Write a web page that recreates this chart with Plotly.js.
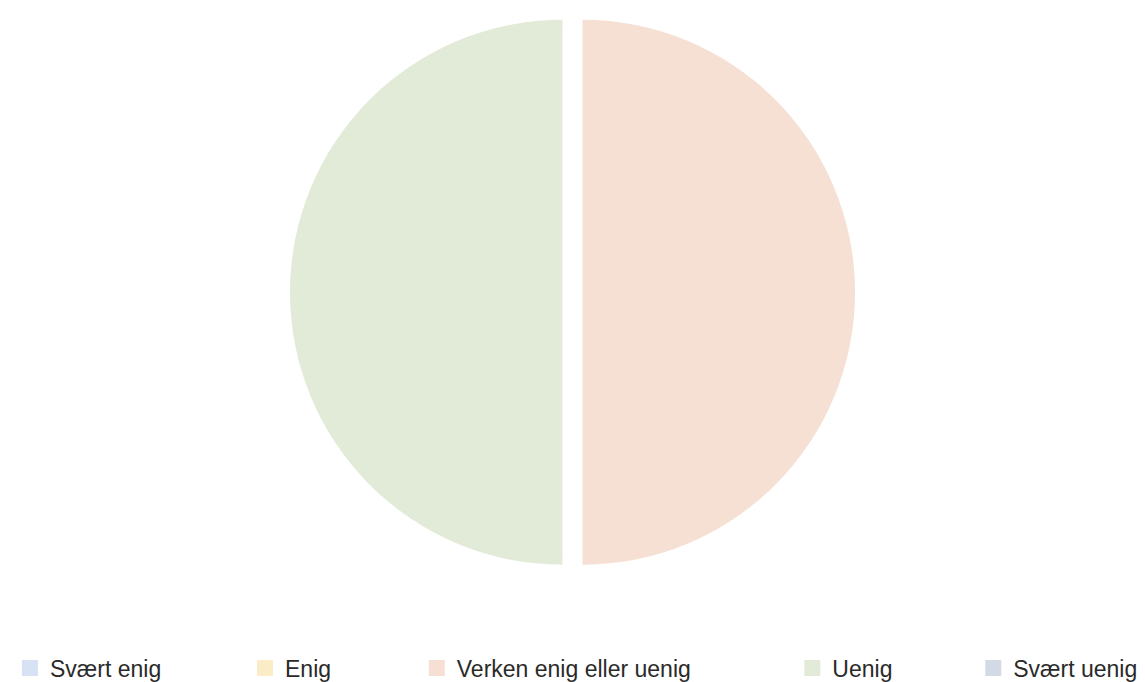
<!DOCTYPE html>
<html>
<head>
<meta charset="utf-8">
<script src="https://cdn.plot.ly/plotly-3.0.1.min.js"></script>
<style>html,body{margin:0;padding:0;background:#fff;}#chart{width:1145px;height:682px;}</style>
</head>
<body>
<div id="chart"></div>
<script>
const labels = ["Svært enig", "Enig", "Verken enig eller uenig", "Uenig", "Svært uenig"];
const values = [0, 0, 50, 50, 0];
const colors = ["#d7e2f4", "#f9ecc6", "#f6e0d3", "#e2ebd8", "#d4d9e6"];
const legendX = [0.0087, 0.214, 0.364, 0.692, 0.850];

const mainPie = {
  type: "pie",
  labels: labels,
  values: values,
  sort: false,
  direction: "clockwise",
  rotation: 0,
  pull: [0, 0, 0.037, 0.037, 0],
  marker: {colors: colors, line: {width: 0}},
  textinfo: "none",
  hoverinfo: "label+percent",
  showlegend: false,
  domain: {x: [0, 1], y: [0.111, 0.985]}
};

const legendFont = {family: "Liberation Sans, Arial, sans-serif", size: 23, color: "#2a2a2a"};
const traces = [mainPie];
const layout = {
  width: 1145,
  height: 682,
  margin: {l: 0, r: 0, t: 0, b: 0},
  paper_bgcolor: "#ffffff",
  plot_bgcolor: "rgba(0,0,0,0)",
  showlegend: true,
  xaxis: {visible: false, domain: [0, 0.001]},
  yaxis: {visible: false, domain: [0, 0.001]}
};

labels.forEach((lab, i) => {
  const key = i === 0 ? "legend" : "legend" + (i + 1);
  traces.push({
    type: "scatter",
    mode: "markers",
    name: lab,
    x: [null],
    y: [null],
    marker: {symbol: "square", size: 16, color: colors[i]},
    hoverinfo: "skip",
    showlegend: true,
    legend: key
  });
  layout[key] = {
    orientation: "h",
    xref: "container", yref: "container",
    x: legendX[i], xanchor: "left",
    y: 0.0205, yanchor: "middle",
    font: legendFont,
    itemsizing: "trace",
    bgcolor: "rgba(0,0,0,0)"
  };
});

Plotly.newPlot("chart", traces, layout, {displayModeBar: false, staticPlot: true});
</script>
</body>
</html>
